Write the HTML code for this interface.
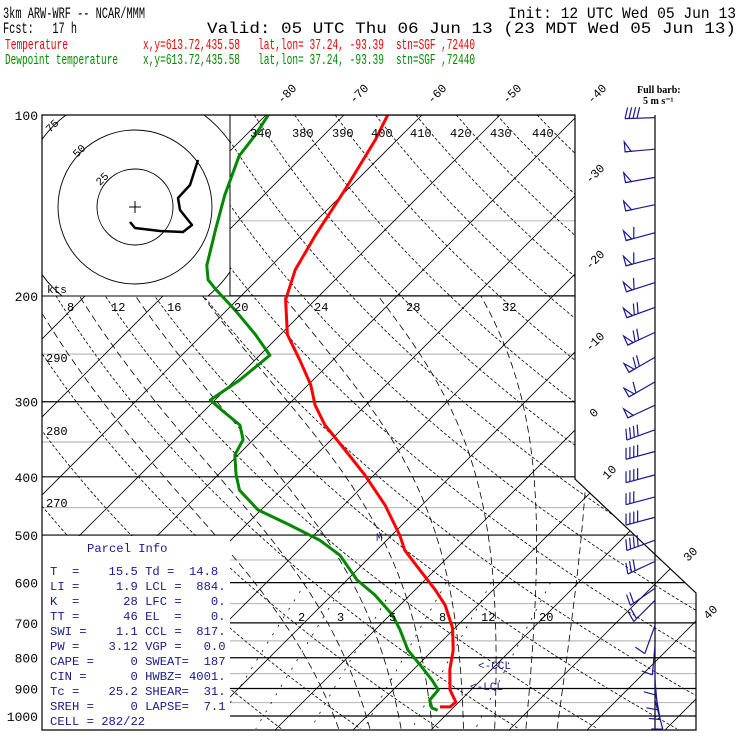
<!DOCTYPE html>
<html><head><meta charset="utf-8"><style>
body{margin:0;background:#fff}
svg{display:block}
text{font-family:"Liberation Mono",monospace;white-space:pre}
</style></head><body>
<svg id="c" width="740" height="740" viewBox="0 0 740 740">
<defs><clipPath id="clip"><polygon points="42,115 575,115 575,479 696,593 696,730 42,730"/></clipPath>
<clipPath id="hclip"><rect x="42" y="115" width="188" height="181"/></clipPath></defs>
<g font-size="16">
<text x="3" y="18" textLength="142" lengthAdjust="spacingAndGlyphs">3km ARW-WRF -- NCAR/MMM</text>
<text x="508" y="18" textLength="228" lengthAdjust="spacingAndGlyphs">Init: 12 UTC Wed 05 Jun 13</text>
<text x="3" y="33" textLength="74" lengthAdjust="spacingAndGlyphs">Fcst:   17 h</text>
<text x="207" y="33" textLength="529" lengthAdjust="spacingAndGlyphs">Valid: 05 UTC Thu 06 Jun 13 (23 MDT Wed 05 Jun 13)</text>
<g fill="#e00" font-size="15">
<text x="5" y="49" textLength="63" lengthAdjust="spacingAndGlyphs">Temperature</text>
<text x="143" y="49" textLength="97" lengthAdjust="spacingAndGlyphs">x,y=613.72,435.58</text>
<text x="258" y="49" textLength="126" lengthAdjust="spacingAndGlyphs">lat,lon= 37.24, -93.39</text>
<text x="396" y="49" textLength="79" lengthAdjust="spacingAndGlyphs">stn=SGF ,72440</text></g>
<g fill="#080" font-size="15">
<text x="5" y="64" textLength="113" lengthAdjust="spacingAndGlyphs">Dewpoint temperature</text>
<text x="143" y="64" textLength="97" lengthAdjust="spacingAndGlyphs">x,y=613.72,435.58</text>
<text x="258" y="64" textLength="126" lengthAdjust="spacingAndGlyphs">lat,lon= 37.24, -93.39</text>
<text x="396" y="64" textLength="79" lengthAdjust="spacingAndGlyphs">stn=SGF ,72440</text></g>
</g>
<g id="bg" clip-path="url(#clip)"></g>
<rect x="42" y="115" width="188" height="181" fill="#fff" stroke="#000" stroke-width="1"/>
<g id="hodo" clip-path="url(#hclip)"></g>
<rect x="42" y="536" width="188" height="194" fill="#fff"/>
<g id="prof" clip-path="url(#clip)"></g>
<polygon points="42,115 575,115 575,479 696,593 696,730 42,730" fill="none" stroke="#000" stroke-width="1.2"/>
<g id="lbl" font-size="12"></g>
<g id="barbs"></g>
<g fill="#1a1a8c" font-size="12.2">
<text x="87" y="552">Parcel Info</text>
<text x="50" y="575">T  =    15.5 Td =  14.8</text>
<text x="50" y="590">LI =     1.9 LCL =  884.</text>
<text x="50" y="605">K  =      28 LFC =    0.</text>
<text x="50" y="620">TT =      46 EL  =    0.</text>
<text x="50" y="635">SWI =    1.1 CCL =  817.</text>
<text x="50" y="650">PW =    3.12 VGP =   0.0</text>
<text x="50" y="665">CAPE =     0 SWEAT=  187</text>
<text x="50" y="680">CIN =      0 HWBZ= 4001.</text>
<text x="50" y="695">Tc =    25.2 SHEAR=  31.</text>
<text x="50" y="710">SREH =     0 LAPSE=  7.1</text>
<text x="50" y="725">CELL = 282/22</text>
</g>
<g fill="#1a1a8c" font-size="11">
<text x="376" y="541">M</text><text x="478" y="669">&lt;-CCL</text><text x="470" y="690">&lt;-LCL</text></g>
<g font-weight="bold" font-size="10">
<text x="637" y="93" style="font-family:'Liberation Serif',serif">Full barb:</text>
<text x="643" y="104" style="font-family:'Liberation Serif',serif">5 m s⁻¹</text></g>
</svg>
<script>
// Temperature profile (hPa, °C)
const tempP=[100,110,133,158,181,203,232,256,281,304,328,361,397,446,500,530,572,617,654,714,777,838,905,948,966,966];
const tempT=[-64.4,-62.8,-60.3,-58.3,-56.4,-53.8,-49.1,-44.2,-39.7,-36.5,-32.7,-26.9,-21.2,-14.7,-9.0,-6.4,-1.9,2.6,5.8,9.7,12.6,14.7,17.3,19.6,19.5,18.2];
// Dewpoint profile
const dewP=[100,108,117,136,155,178,188,195,211,232,251,276,298,310,328,347,368,397,421,454,481,510,540,594,629,679,719,777,823,871,905,941,970,978];
const dewT=[-79.7,-78.8,-78.2,-75,-71.8,-68.3,-66.3,-64.1,-59,-53.2,-48.7,-49.4,-50.6,-47.8,-43.6,-41.3,-40.4,-37.7,-35.3,-30.4,-24.4,-18.6,-14.1,-8.7,-4.5,0.3,3.2,6.8,10.3,13.7,15.8,16.0,17.3,18.3];
// Winds
const windP=[101,114,127,141,157,173,190,209,230,253,278,304,334,363,397,432,467,510,553,613,642,707,762,822,871,905,941];
const windSpd=[22,27,25,25,30,30,30,35,35,35,30,25,20,20,20,15,20,20,15,10,10,5,5,5,5,5,5];
const windDir=[268,265,260,258,255,255,252,250,245,240,240,245,250,255,255,255,255,250,245,235,225,200,185,180,175,170,165];
// Hodograph (u,v)
const hodoU=[-5,0,25,48,57,45,43,55,63];
const hodoV=[-15,-21,-24,-25,-18,-3,9,22,47];
const pLevels=[100,200,300,400,500,600,700,800,900,1000];
const pMinor=[150,250,350,450,550,650,750,850,950];
const isoT=[-120,-110,-100,-90,-80,-70,-60,-50,-40,-30,-20,-10,0,10,20,30,40,50];
const thetas=[250,260,270,280,290,300,310,320,330,340,350,360,370,380,390,400,410,420,430,440,450,460,470];
const moistT=[8,12,16,20,24,28,32,36];
const mixW=[2,3,5,8,12,20];

const NS='http://www.w3.org/2000/svg';
const yP=p=>115+261*Math.log(p/100);
const xT=(T,p)=>578+7.8*(T+40)-(yP(p)-115);
function mk(tag,attrs,parent){const e=document.createElementNS(NS,tag);for(const k in attrs)e.setAttribute(k,attrs[k]);parent.appendChild(e);return e;}
const bg=document.getElementById('bg'),prof=document.getElementById('prof'),lbl=document.getElementById('lbl'),hodo=document.getElementById('hodo'),barbs=document.getElementById('barbs');

pMinor.forEach(p=>{const l=mk('line',{x1:42,x2:700,y1:yP(p),y2:yP(p),stroke:'#bbb','stroke-width':1.2},bg);

});
pLevels.forEach(p=>{const l=mk('line',{x1:42,x2:700,y1:yP(p),y2:yP(p),stroke:'#000','stroke-width':1.2},bg);


const t=mk('text',{x:38,y:yP(p)+5,'text-anchor':'end','font-size':13},lbl);t.textContent=p;

});
isoT.forEach(T=>{const l=mk('line',{x1:xT(T,100),y1:yP(100),x2:xT(T,1100),y2:yP(1100),stroke:'#000','stroke-width':0.8},bg);

});
function poly(pts,attrs,parent){return mk('polyline',Object.assign({points:pts.map(q=>q[0].toFixed(1)+','+q[1].toFixed(1)).join(' '),fill:'none'},attrs),parent);}
thetas.forEach(th=>{const pts=[];for(let p=100;p<=1050;p+=10){pts.push([xT(th*Math.pow(p/1000,0.2857)-273.15,p),yP(p)]);}
const e=poly(pts,{stroke:'#000','stroke-width':0.8,'stroke-dasharray':'3,2'},bg);

});
function es(T){return 6.112*Math.exp(17.67*T/(T+243.5));}
moistT.forEach(T0=>{let T=T0,pts=[];for(let p=1050;p>=200;p-=5){pts.push([xT(T,p),yP(p)]);
const Tk=T+273.15,ws=0.622*es(T)/(p-es(T));const L=2.5e6,Rd=287,cp=1004;
const g=(Rd*Tk+L*ws)/(cp+L*L*ws*0.622/(Rd*Tk*Tk))/p;T-=g*5;}
const e=poly(pts,{stroke:'#000','stroke-width':0.8,'stroke-dasharray':'7,4'},bg);

});
mixW.forEach(w=>{const pts=[];for(let p=600;p<=1050;p+=25){const e=w*p/(622+w),a=Math.log(e/6.112);pts.push([xT(243.5*a/(17.67-a),p),yP(p)]);}
const e=poly(pts,{stroke:'#000','stroke-width':0.8,'stroke-dasharray':'2,8'},bg);

});

const tl=poly(tempP.map((p,i)=>[xT(tempT[i],p),yP(p)]),{stroke:'#f00','stroke-width':3,'stroke-linejoin':'round'},prof);


const dl=poly(dewP.map((p,i)=>[xT(dewT[i],p),yP(p)]),{stroke:'#080','stroke-width':3,'stroke-linejoin':'round'},prof);



function rt(x,y,s,name,size,parent){const t=mk('text',{x:x,y:y,transform:`rotate(-45 ${x} ${y})`,'font-size':size||12},parent||lbl);t.textContent=s;

}
[[-80,282,104],[-70,354,104],[-60,432,104],[-50,507,104],[-40,592,104],[-30,590,184],[-20,590,270],[-10,590,352],[0,594,418],[10,607,480],[30,688,562],[40,708,620]].forEach(a=>rt(a[1],a[2],String(a[0]),'isotherm-label'));
[[340,250,137],[380,292,137],[390,332,137],[400,371,137],[410,410,137],[420,450,137],[430,490,137],[440,532,137]].forEach(a=>{const t=mk('text',{x:a[1],y:a[2],'font-size':12},lbl);t.textContent=a[0];

});
[[290,46,362],[280,46,435],[270,46,507]].forEach(a=>{const t=mk('text',{x:a[1],y:a[2],'font-size':12},lbl);t.textContent=a[0];

});
[[8,67],[12,111],[16,167],[20,234],[24,314],[28,406],[32,502]].forEach(a=>{const t=mk('text',{x:a[1],y:311,'font-size':12},lbl);t.textContent=a[0];

});
[[2,298],[3,337],[5,389],[8,439],[12,481],[20,539]].forEach(a=>{const t=mk('text',{x:a[1],y:621,'font-size':12},lbl);t.textContent=a[0];

});

// hodograph
const cx=135,cy=207;
[38,77,115].forEach(r=>{const c=mk('circle',{cx:cx,cy:cy,r:r,fill:'none',stroke:'#000','stroke-width':0.9},hodo);

});
[['25',100,186],['50',77,158],['75',50,133]].forEach(a=>rt(a[1],a[2],a[0],'hodograph-ring-label',11,hodo));
mk('path',{d:`M${cx-6},${cy}h12M${cx},${cy-6}v12`,stroke:'#000'},hodo);
const hl=poly(hodoU.map((u,i)=>[cx+u,cy-hodoV[i]]),{stroke:'#000','stroke-width':2.5,'stroke-linejoin':'round'},hodo);


const kt=mk('text',{x:47,y:293,'font-size':11},lbl);kt.textContent='kts';



// barbs
mk('line',{x1:655,y1:115,x2:655,y2:730,stroke:'#000','stroke-width':1.2},barbs);
windP.forEach((p,i)=>{const y=yP(p),d=windDir[i]*Math.PI/180,L=30;
const dx=Math.sin(d),dy=-Math.cos(d);const ex=655+dx*L,ey=y+dy*L;
const g=mk('g',{stroke:'#1a1a8c','stroke-width':1.2,fill:'none'},barbs);


mk('line',{x1:655,y1:y,x2:ex,y2:ey},g);
let s=windSpd[i],pos=0;const px=-dy,py=dx;
while(s>=25){const ax=ex-dx*pos,ay=ey-dy*pos;mk('polygon',{points:`${ax},${ay} ${ax+px*10},${ay+py*10} ${ax-dx*6},${ay-dy*6}`},g);pos+=8;s-=25;}
while(s>=5){const ax=ex-dx*pos,ay=ey-dy*pos;mk('line',{x1:ax,y1:ay,x2:ax+px*11-dx*3,y2:ay+py*11-dy*3},g);pos+=4;s-=5;}
});
</script>
</body></html>
